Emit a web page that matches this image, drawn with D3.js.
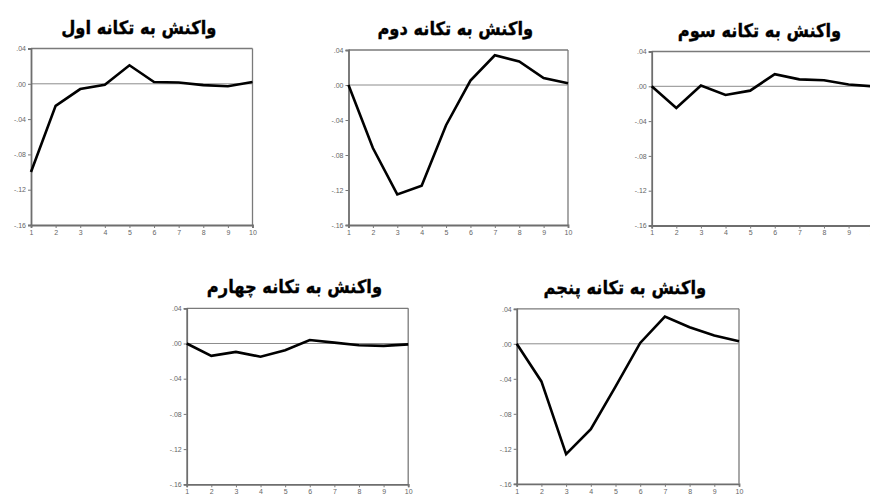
<!DOCTYPE html>
<html>
<head>
<meta charset="utf-8">
<script src="https://cdn.jsdelivr.net/npm/d3@7"></script>
<style>
html,body{margin:0;padding:0;background:#fff;}
svg{display:block;}
</style>
</head>
<body>
<svg id="chart" width="870" height="497"></svg>
<script>
const periods = [1,2,3,4,5,6,7,8,9,10];
const yTicks = [0.04, 0.00, -0.04, -0.08, -0.12, -0.16];
const titles = ["واکنش به تکانه اول","واکنش به تکانه دوم","واکنش به تکانه سوم","واکنش به تکانه چهارم","واکنش به تکانه پنجم"];
const shock1 = [-0.100, -0.025, -0.006, -0.001, 0.021, 0.002, 0.0015, -0.0015, -0.0027, 0.002];
const shock2 = [0.000, -0.072, -0.125, -0.115, -0.046, 0.005, 0.034, 0.027, 0.008, 0.002];
const shock3 = [0.000, -0.025, 0.001, -0.010, -0.005, 0.014, 0.008, 0.007, 0.002, 0.000];
const shock4 = [0.000, -0.014, -0.0095, -0.015, -0.0076, 0.004, 0.001, -0.002, -0.0027, -0.001];
const shock5 = [0.000, -0.043, -0.126, -0.0975, -0.049, 0.001, 0.031, 0.019, 0.0095, 0.003];
const series = [shock1, shock2, shock3, shock4, shock5];

const panels = [
  {left:31,    top:48.5, w:221.5, h:176.5},
  {left:348.5, top:50,   w:219.5, h:175},
  {left:651.7, top:51.5, w:221.5, h:174},
  {left:186.7, top:308.3,w:221.5, h:176},
  {left:516.7, top:308.8,w:222.3, h:175}
];

const svg = d3.select("#chart");
const fmt = v => {
  if (Math.abs(v) < 1e-9) return ".00";
  const s = Math.abs(v).toFixed(2).replace(/^0/, "");
  return (v < 0 ? "-" : "") + s;
};

panels.forEach((p, i) => {
  const g = svg.append("g").attr("transform", `translate(${p.left},${p.top})`);
  const x = d3.scaleLinear().domain([1, 10]).range([0, p.w]);
  const y = d3.scaleLinear().domain([-0.16, 0.04]).range([p.h, 0]);

  // frame top/right
  g.append("line").attr("x1", 0).attr("x2", p.w).attr("y1", 0).attr("y2", 0)
    .attr("stroke", "#7a7a7a").attr("stroke-width", 1.3);
  g.append("line").attr("x1", p.w).attr("x2", p.w).attr("y1", 0).attr("y2", p.h)
    .attr("stroke", "#7a7a7a").attr("stroke-width", 1.3);

  // zero line
  g.append("line").attr("x1", 0).attr("x2", p.w).attr("y1", y(0)).attr("y2", y(0))
    .attr("stroke", "#8c8c8c").attr("stroke-width", 1);

  // axes
  const ya = d3.axisLeft(y).tickValues(yTicks).tickFormat(fmt).tickSize(3).tickPadding(2);
  const yg = g.append("g").call(ya);
  const xa = d3.axisBottom(x).tickValues(periods).tickFormat(d3.format("d")).tickSize(3).tickPadding(2);
  const xg = g.append("g").attr("transform", `translate(0,${p.h})`).call(xa);
  [yg, xg].forEach(a => {
    a.select(".domain").attr("stroke", "#6e6e6e").attr("stroke-width", 1.8);
    a.selectAll(".tick line").attr("stroke", "#777").attr("stroke-width", 1);
    a.selectAll(".tick text").attr("fill", "#666").style("font-family", "Arial, 'Liberation Sans', sans-serif").style("font-size", "7px");
  });

  // line
  const line = d3.line().x((d, j) => x(periods[j])).y(d => y(d));
  g.append("path").datum(series[i]).attr("d", line)
    .attr("fill", "none").attr("stroke", "#000").attr("stroke-width", 2.6)
    .attr("stroke-linejoin", "miter");

  // title
  svg.append("text")
    .attr("transform", `translate(${p.left + p.w / 2 - 3},${p.top - 15}) scale(0.88,1)`)
    .attr("text-anchor", "middle")
    .attr("direction", "rtl")
    .style("font-family", "'DejaVu Sans', sans-serif")
    .style("font-weight", "bold")
    .style("font-size", "18.5px")
    .attr("fill", "#000")
    .attr("stroke", "#000")
    .attr("stroke-width", 0.35)
    .text(titles[i]);
});
</script>
</body>
</html>
